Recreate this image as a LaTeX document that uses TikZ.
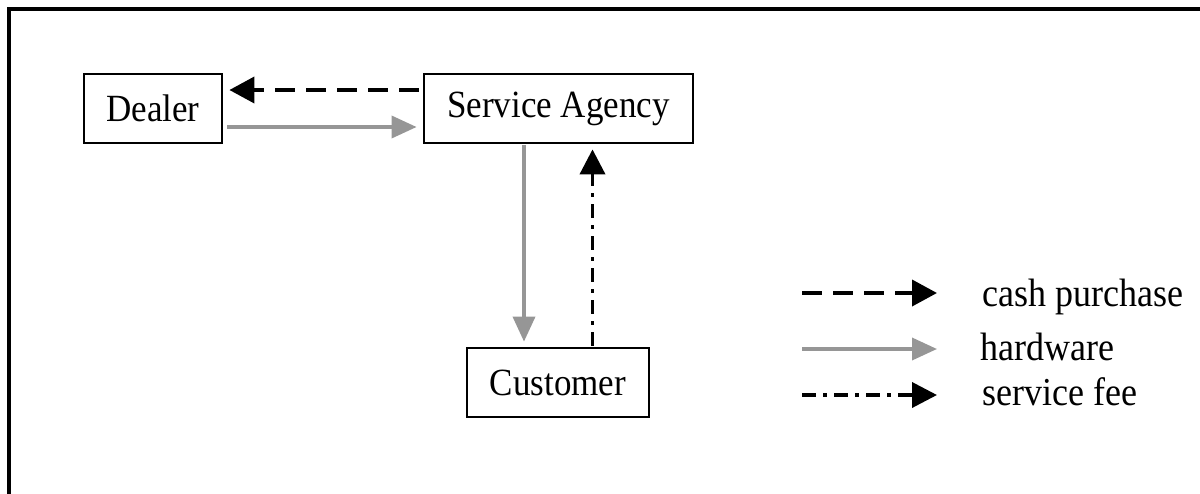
\documentclass[tikz,border=0pt]{standalone}
\usepackage{graphicx}
\usepackage{fontspec}
\setmainfont{Liberation Serif}
\usetikzlibrary{arrows.meta}
\definecolor{hwgray}{RGB}{150,150,150}
\newcommand\vstretch[1]{\scalebox{1}[1.1]{#1}}
\tikzset{
  box/.style={draw, line width=2.8pt, minimum height=69pt, inner sep=0pt, font=\fontsize{35}{40}\selectfont},
  cash/.style={line width=3.8pt, dash pattern=on 20pt off 11pt, -{Triangle[length=25pt,width=26pt]}},
  hw/.style={line width=3.6pt, hwgray, -{Triangle[length=25pt,width=22pt]}},
  fee/.style={line width=3.8pt, dash pattern=on 14pt off 7pt on 4pt off 7pt, -{Triangle[length=25pt,width=25pt]}},
  legtext/.style={anchor=base west, inner sep=0pt, font=\fontsize{36}{40}\selectfont},
}
\begin{document}
\begin{tikzpicture}[x=1pt,y=-1pt]
\useasboundingbox (0,0) rectangle (1200,493);
\clip (0,0) rectangle (1200,493);
\draw[line width=3.3pt] (9,600) -- (9,9) -- (1300,9);

\node[box, minimum width=138pt] (dealer) at (153,108.5) {\vstretch{Dealer}};
\node[box, minimum width=269pt] (sa) at (558.5,108.5) {\vstretch{Service Agency}};
\node[box, minimum width=182pt] (cust) at (558,382.5) {\vstretch{Customer}};

\draw[cash, shorten <=4pt, shorten >=6pt] ([yshift=18.5pt]sa.west) -- ([yshift=18.5pt]dealer.east);
\draw[hw, shorten <=4pt, shorten >=6pt] ([yshift=-18.5pt]dealer.east) -- ([yshift=-18.5pt]sa.west);
\draw[hw, shorten <=1pt, shorten >=5pt] ([xshift=-34.5pt]sa.south) -- ([xshift=-34.5pt]sa.south |- cust.north);
\draw[fee, shorten <=1pt, shorten >=5pt] ([xshift=34.5pt]cust.north) -- ([xshift=34.5pt]cust.north |- sa.south);

\coordinate (l1a) at (802,293); \coordinate (l1b) at (937,293);
\coordinate (l2a) at (802,349); \coordinate (l2b) at (937,349);
\coordinate (l3a) at (802,395); \coordinate (l3b) at (937,395);
\draw[cash] (l1a) -- (l1b);
\draw[hw] (l2a) -- (l2b);
\draw[fee] (l3a) -- (l3b);
\node[legtext] (t1) at (982,306) {\vstretch{cash purchase}};
\node[legtext] (t2) at (980,360) {\vstretch{hardware}};
\node[legtext] (t3) at (982,405) {\vstretch{service fee}};
\end{tikzpicture}
\end{document}
